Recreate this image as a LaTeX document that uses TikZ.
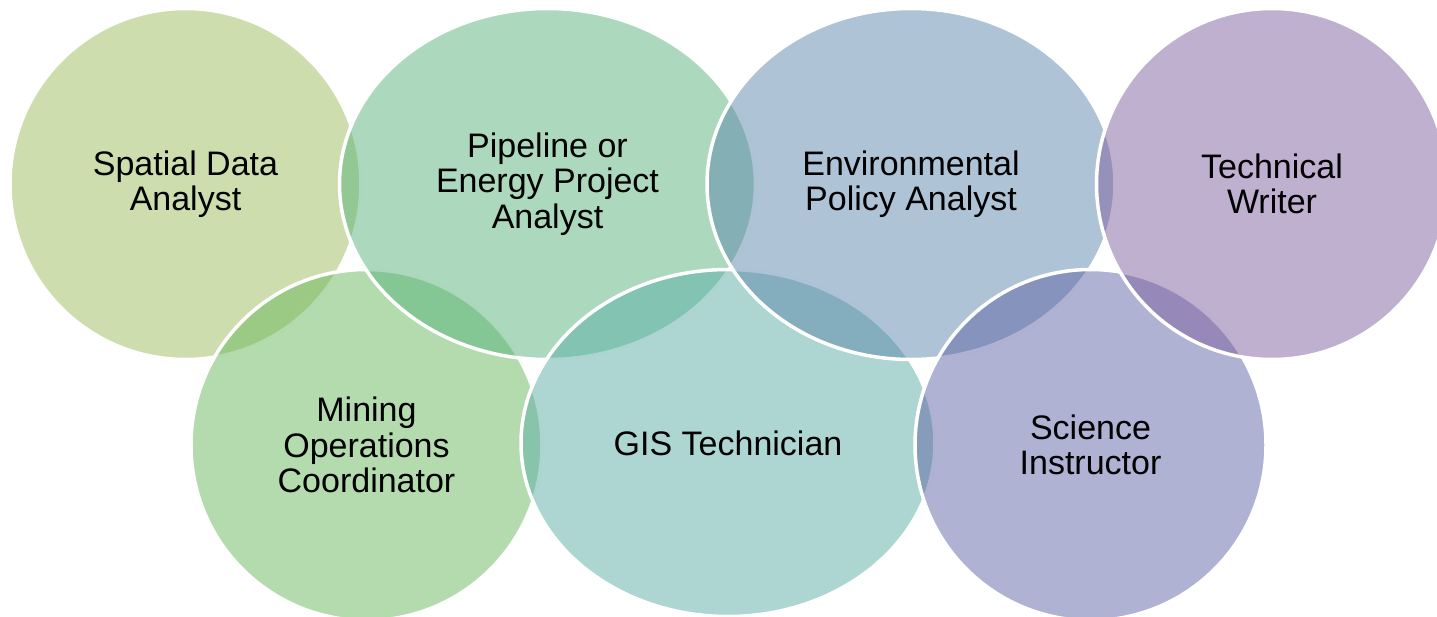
\documentclass[tikz,border=0pt]{standalone}
\usepackage{fontspec}
\setmainfont{Liberation Sans}
\usetikzlibrary{shapes.geometric}
\definecolor{cSpatial}{RGB}{157,187,91}
\definecolor{cPipe}{RGB}{89,179,123}
\definecolor{cEnv}{RGB}{93,135,171}
\definecolor{cTech}{RGB}{127,97,161}
\definecolor{cMining}{RGB}{103,183,93}
\definecolor{cGIS}{RGB}{91,173,165}
\definecolor{cSci}{RGB}{95,101,165}
\begin{document}
\begin{tikzpicture}[x=1pt,y=-1pt,
  bubble/.style={ellipse, draw=white, line width=3.5pt, fill opacity=0.5, text opacity=1,
    inner sep=0pt, align=center, text=black, font=\fontsize{34}{35.5}\selectfont},
  round/.style={bubble, minimum width=351pt, minimum height=351pt},
  wide/.style={bubble, minimum width=414pt, minimum height=351pt}]
\useasboundingbox (0,0) rectangle (1437,616);
\node[round, fill=cSpatial] (spatial) at (185.5,184) {Spatial Data\\Analyst};
\node[round, fill=cMining] (mining) at (366.5,445) {Mining\\Operations\\Coordinator};
\node[wide, fill=cPipe, minimum width=416pt] (pipe) at (547.5,184) {Pipeline or\\Energy Project\\Analyst};
\node[wide, fill=cGIS, minimum height=347pt] (gis) at (728,443) {GIS Technician};
\node[wide, fill=cEnv, minimum width=408pt] (env) at (911,184) {Environmental\\Policy Analyst};
\node[round, fill=cSci] (sci) at (1090.5,445) {Science\\Instructor};
\node[round, fill=cTech] (tech) at (1272,184) {Technical\\Writer};
\end{tikzpicture}
\end{document}
